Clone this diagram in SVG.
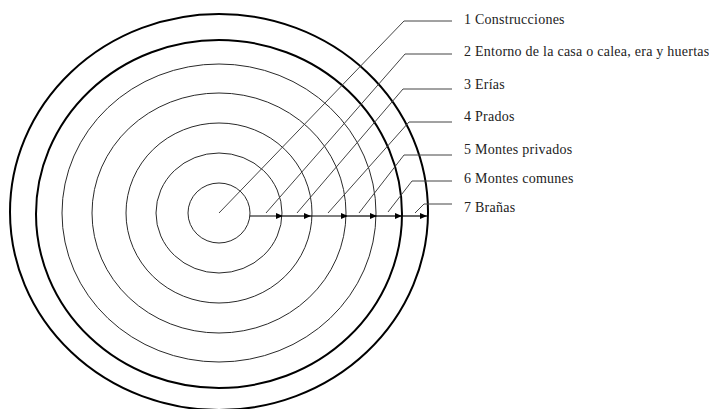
<svg xmlns="http://www.w3.org/2000/svg" width="709" height="409" viewBox="0 0 709 409">
<style>
.thin{fill:none;stroke:#2a2a2a;stroke-width:1}
.thick{fill:none;stroke:#000;stroke-width:2}
.lead{fill:none;stroke:#444;stroke-width:1}
.lbl{font-family:"Liberation Serif",serif;font-size:14px;letter-spacing:0.25px;fill:#222}
.arr{fill:none;stroke:#000;stroke-width:1.2}
</style>
<defs>
<marker id="ah" markerWidth="7" markerHeight="6" refX="7" refY="3" orient="auto" markerUnits="userSpaceOnUse">
<path d="M0,0 L7,3 L0,6 Z" fill="#000"/>
</marker>
</defs>
<rect width="709" height="409" fill="#fff"/>
<g id="rings">
<ellipse id="ring1" class="thin" cx="219" cy="213" rx="31" ry="30"/>
<ellipse id="ring2" class="thin" cx="219" cy="213" rx="63" ry="60"/>
<ellipse id="ring3" class="thin" cx="219" cy="213" rx="93" ry="90"/>
<ellipse id="ring4" class="thin" cx="219" cy="213" rx="127" ry="120"/>
<ellipse id="ring5" class="thin" cx="219" cy="213" rx="157" ry="149"/>
<ellipse id="ring6" class="thick" cx="219" cy="214" rx="183" ry="174"/>
<ellipse id="ring7" class="thick" cx="219" cy="212" rx="209" ry="198"/>
</g>
<g id="connectors">
<polyline class="lead" points="219,213 404,21 452,21"/>
<polyline class="lead" points="266,213 405,54 452,54"/>
<polyline class="lead" points="297,213 403,89 452,89"/>
<polyline class="lead" points="328,213 409,122 452,122"/>
<polyline class="lead" points="359,213 404,155 452,155"/>
<polyline class="lead" points="388,212 412,181 452,181"/>
<polyline class="lead" points="415,213 424,204 452,204"/>
<line class="arr" x1="250" y1="216" x2="283" y2="216" marker-end="url(#ah)"/>
<line class="arr" x1="283" y1="216" x2="311" y2="216" marker-end="url(#ah)"/>
<line class="arr" x1="311" y1="216" x2="348" y2="216" marker-end="url(#ah)"/>
<line class="arr" x1="348" y1="216" x2="377" y2="216" marker-end="url(#ah)"/>
<line class="arr" x1="377" y1="216" x2="402" y2="216" marker-end="url(#ah)"/>
<line class="arr" x1="402" y1="216" x2="427" y2="216" marker-end="url(#ah)"/>
</g>
<g id="label1"><text class="lbl" x="464" y="24">1 Construcciones</text></g>
<g id="label2"><text class="lbl" x="464" y="56">2 Entorno de la casa o calea, era y huertas</text></g>
<g id="label3"><text class="lbl" x="464" y="89">3 Erías</text></g>
<g id="label4"><text class="lbl" x="464" y="121">4 Prados</text></g>
<g id="label5"><text class="lbl" x="464" y="154">5  Montes privados</text></g>
<g id="label6"><text class="lbl" x="464" y="183">6 Montes comunes</text></g>
<g id="label7"><text class="lbl" x="464" y="212">7 Brañas</text></g>
</svg>
